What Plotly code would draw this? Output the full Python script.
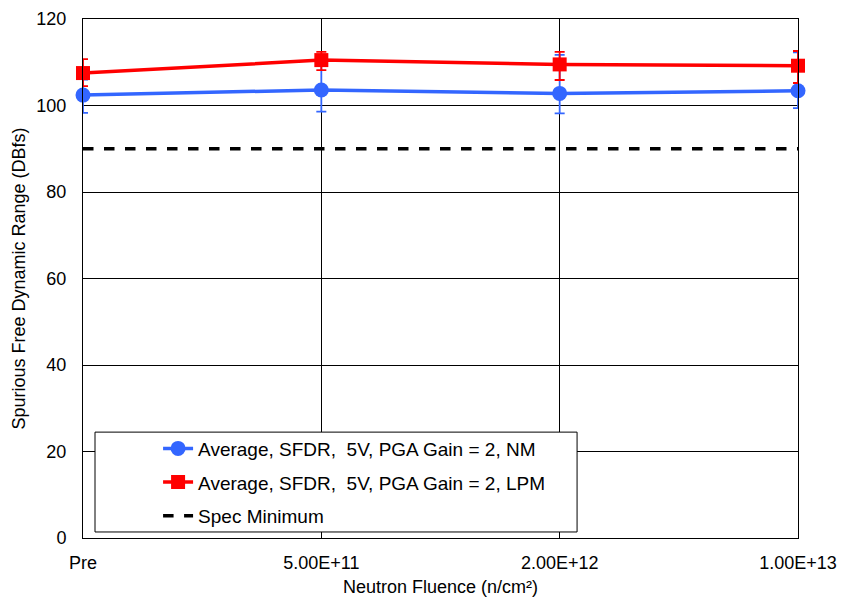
import plotly.graph_objects as go

categories = ["Pre", "5.00E+11", "2.00E+12", "1.00E+13"]
nm_avg = [102.4, 103.6, 102.8, 103.4]
nm_hi = [106.0, 111.7, 111.7, 112.3]
nm_lo = [98.3, 98.6, 98.2, 99.4]
lpm_avg = [107.5, 110.5, 109.5, 109.2]
lpm_hi = [110.7, 112.4, 112.4, 112.6]
lpm_lo = [104.5, 108.2, 105.9, 105.2]
spec_min = [90, 90, 90, 90]
y_ticks = [0, 20, 40, 60, 80, 100, 120]

BLUE = "#3366FF"
RED = "#FF0000"
FONT = "Liberation Sans, Arial, sans-serif"

fig = go.Figure()

def add_series(name, avg, hi, lo, color, symbol, size, group):
    fig.add_trace(go.Scatter(
        x=list(range(len(categories))), y=avg, name=name, mode="lines+markers",
        legendgroup=group,
        line=dict(color=color, width=3.5),
        marker=dict(color=color, symbol=symbol, size=size),
        error_y=dict(type="data", symmetric=False,
                     array=[h - a for h, a in zip(hi, avg)],
                     arrayminus=[a - l for a, l in zip(avg, lo)],
                     color=color, thickness=1.8, width=5),
        cliponaxis=False,
    ))

add_series("Average, SFDR,  5V, PGA Gain = 2, NM", nm_avg, nm_hi, nm_lo, BLUE, "circle", 15, "g1")
add_series("Average, SFDR,  5V, PGA Gain = 2, LPM", lpm_avg, lpm_hi, lpm_lo, RED, "square", 14, "g2")
fig.add_trace(go.Scatter(
    x=list(range(len(categories))), y=spec_min, name="Spec Minimum", mode="lines",
    legendgroup="g3",
    line=dict(color="black", width=3.5, dash="dash"),
))

# legend frame (white box with black border)
fig.add_shape(type="rect", xref="paper", yref="paper",
              x0=0.0168, x1=0.691, y0=0.0116, y1=0.204,
              line=dict(color="black", width=1), fillcolor="white", layer="above")

fig.update_layout(
    width=841, height=602,
    margin=dict(l=83, r=43, t=19, b=64, autoexpand=False),
    paper_bgcolor="white", plot_bgcolor="white",
    font=dict(family=FONT, color="black"),
    legend=dict(
        x=0.105, y=0.209, xanchor="left", yanchor="top",
        borderwidth=0, bgcolor="rgba(0,0,0,0)",
        font=dict(size=19, family=FONT),
        itemwidth=30, tracegroupgap=6, traceorder="grouped",
    ),
    showlegend=True,
)
fig.update_xaxes(
    range=[0, 3], tickvals=list(range(len(categories))), ticktext=categories,
    showgrid=True, gridcolor="black", gridwidth=1,
    showline=True, linecolor="black", linewidth=1, mirror=True,
    ticks="", zeroline=False, ticklabelstandoff=8,
    tickfont=dict(size=18, family=FONT),
    title=dict(text="Neutron Fluence (n/cm²)", standoff=8,
               font=dict(size=18, family=FONT)),
)
fig.update_yaxes(
    range=[0, 120], tickvals=y_ticks,
    showgrid=True, gridcolor="black", gridwidth=1,
    showline=True, linecolor="black", linewidth=1, mirror=True,
    ticks="", zeroline=False, ticklabelstandoff=12,
    tickfont=dict(size=18),
    title=dict(text="Spurious Free Dynamic Range (DBfs)", standoff=6, font=dict(size=18)),
)

fig.write_html("out.html",
               config={"displayModeBar": False},
               post_script="document.body.style.margin='0px';document.body.style.overflow='hidden';")
